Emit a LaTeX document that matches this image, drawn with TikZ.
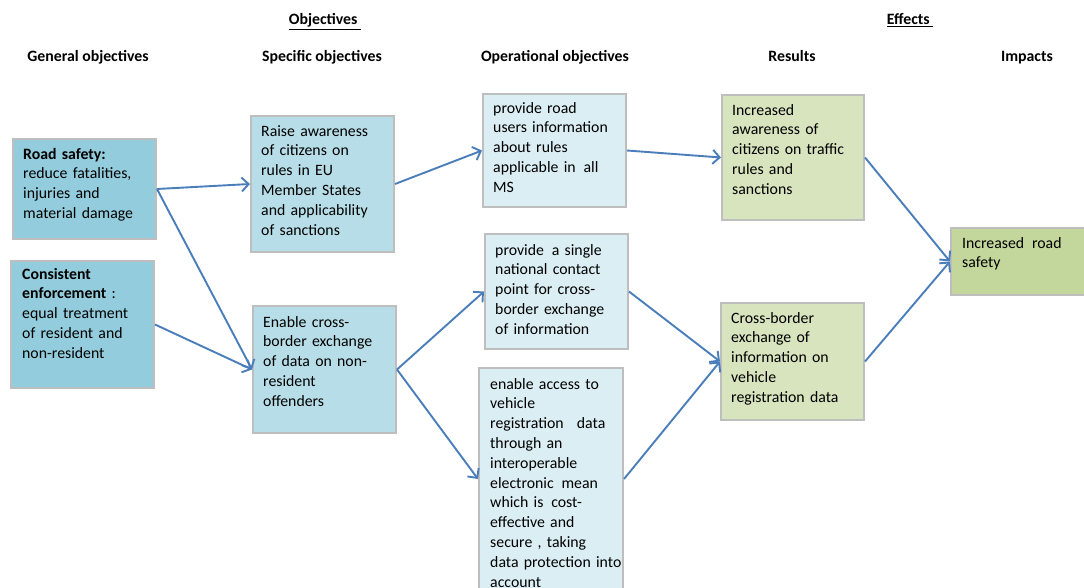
\documentclass[tikz,border=0pt]{standalone}
\usepackage{fontspec}
\setmainfont{Carlito}
\usetikzlibrary{arrows.meta,calc}
\definecolor{genc}{HTML}{93CDDD}
\definecolor{specc}{HTML}{B7DEE8}
\definecolor{opc}{HTML}{DBEEF4}
\definecolor{resc}{HTML}{D7E4BD}
\definecolor{impc}{HTML}{C3D69B}
\definecolor{arrowc}{HTML}{4A7EBB}
\definecolor{bordc}{HTML}{BEBEBE}
\begin{document}
\begin{tikzpicture}[x=1pt,y=-1pt,
  box/.style={draw=bordc, line width=2pt, inner sep=0pt, anchor=north west},
  txt/.style={inner sep=0pt, anchor=north west, align=left, text width=200pt,
    font=\fontsize{15.8}{19.8}\selectfont},
  hdr/.style={inner sep=0pt, anchor=base, font=\fontsize{15.8}{19.8}\selectfont\bfseries},
  conn/.style={draw=arrowc, line width=1.9pt, -{Straight Barb[length=7pt,width=14pt]}}]
\clip (0,0) rectangle (1084,588);
\fill[white] (0,0) rectangle (1084,588);
% headers
\node[hdr] (hobj) at (325,25) {\underline{Objectives\ }};
\node[hdr] (heff) at (910,25) {\underline{Effects\ }};
\node[hdr] (hgen) at (88,62) {General objectives};
\node[hdr] (hspec) at (322,62) {Specific objectives};
\node[hdr] (hop) at (555,62) {Operational objectives};
\node[hdr] (hres) at (792,62) {Results};
\node[hdr] (himp) at (1027,62) {Impacts};
% boxes
\node[box, fill=genc, minimum width=143pt, minimum height=100pt] (gen1) at (12,138) {};
\node[box, fill=genc, minimum width=143pt, minimum height=127pt] (gen2) at (10,260) {};
\node[box, fill=specc, minimum width=143pt, minimum height=136pt] (spec1) at (250,115) {};
\node[box, fill=specc, minimum width=143pt, minimum height=127pt] (spec2) at (252,305) {};
\node[box, fill=opc, minimum width=143pt, minimum height=113pt] (op1) at (482,93) {};
\node[box, fill=opc, minimum width=143pt, minimum height=115pt] (op2) at (484,233) {};
\node[box, fill=opc, minimum width=144pt, minimum height=222pt] (op3) at (478,367) {};
\node[box, fill=resc, minimum width=142pt, minimum height=125pt] (res1) at (721,94) {};
\node[box, fill=resc, minimum width=143pt, minimum height=117pt] (res2) at (720,302) {};
\node[box, fill=impc, minimum width=150pt, minimum height=67pt] (imp) at (950,227) {};
% texts
\node[txt] (tgen1) at ([shift={(11,7)}]gen1.north west) {\strut\textbf{Road safety:}\\reduce fatalities,\\injuries and\\material damage};
\node[txt] (tgen2) at ([shift={(12,5)}]gen2.north west) {\strut\textbf{Consistent}\\\textbf{enforcement} :\\equal treatment\\of resident and\\non-resident};
\node[txt] (tspec1) at ([shift={(11,7)}]spec1.north west) {\strut Raise awareness\\of citizens on\\rules in EU\\Member States\\and applicability\\of sanctions};
\node[txt] (tspec2) at ([shift={(11,8)}]spec2.north west) {\strut Enable cross-\\border exchange\\of data on non-\\resident\\offenders};
\node[txt] (top1) at ([shift={(11,6)}]op1.north west) {\strut provide road\\users information\\about rules\\applicable in\ \,all\\MS};
\node[txt] (top2) at ([shift={(11,8)}]op2.north west) {\strut provide\ \,a single\\national contact\\point for cross-\\border exchange\\of information};
\node[txt] (top3) at ([shift={(12,8)}]op3.north west) {\strut enable access to\\vehicle\\registration\ \ \,data\\through an\\interoperable\\electronic\ \,mean\\which is\ \,cost-\\effective and\\secure , taking\\data protection into\\account};
\node[txt] (tres1) at ([shift={(11,7)}]res1.north west) {\strut Increased\\awareness of\\citizens on traffic\\rules and\\sanctions};
\node[txt] (tres2) at ([shift={(11,7)}]res2.north west) {\strut Cross-border\\exchange of\\information on\\vehicle\\registration data};
\node[txt] (timp) at ([shift={(12,7)}]imp.north west) {\strut Increased\ \,road\\safety};
% connectors
\draw[conn] (gen1.east) -- (spec1.west);
\draw[conn] (gen1.east) -- (spec2.west);
\draw[conn] (gen2.east) -- (spec2.west);
\draw[conn] (spec1.east) -- (op1.west);
\draw[conn] (spec2.east) -- (op2.west);
\draw[conn] (spec2.east) -- (op3.west);
\draw[conn] (op1.east) -- (res1.west);
\draw[conn] (op2.east) -- (res2.west);
\draw[conn] (op3.east) -- (res2.west);
\draw[conn] (res1.east) -- (imp.west);
\draw[conn] (res2.east) -- (imp.west);
\end{tikzpicture}
\end{document}
